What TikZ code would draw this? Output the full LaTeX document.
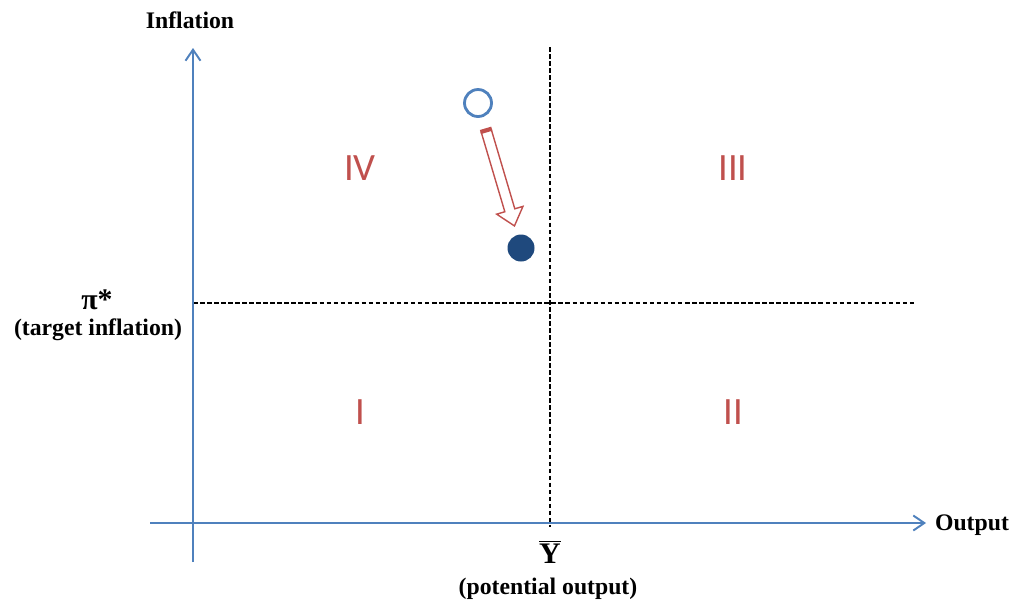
\documentclass[tikz,border=0pt]{standalone}
\usepackage{fontspec}
\setmainfont{Liberation Serif}
\newfontfamily\zonefont{Carlito}
\usetikzlibrary{arrows.meta,shapes.arrows,calc}
\definecolor{AxisBlue}{HTML}{4F81BD}
\definecolor{ZoneRed}{HTML}{C0504D}
\definecolor{DotBlue}{HTML}{1F497D}

\begin{document}
\begin{tikzpicture}[x=0.02cm,y=-0.02cm,>={Straight Barb[length=0.22cm,width=0.3cm]},
  axis/.style={AxisBlue,line width=1.1pt},
  guide/.style={black,line width=1pt,dash pattern=on 2.6pt off 1.4pt},
  lbl/.style={font=\bfseries\fontsize{13.5}{15}\selectfont,inner sep=0pt},
  big/.style={font=\bfseries\fontsize{17}{18}\selectfont},
  zone/.style={font=\zonefont\fontsize{22}{24}\selectfont,text=ZoneRed}]
\path[use as bounding box,fill=white] (0,0) rectangle (1013,600);
% axes and guides
\coordinate (ybot) at (193,562);\coordinate (ytop) at (193,48);
\coordinate (xleft) at (150,523);\coordinate (xright) at (926,523);
\coordinate (vtop) at (550,47);\coordinate (vbot) at (550,527);
\coordinate (hleft) at (193,303);\coordinate (hright) at (915,303);
\draw[guide] (vtop)--(vbot);
\draw[guide] (hleft)--(hright);
\draw[axis,->] (ybot)--(ytop);
\draw[axis,->] (xleft)--(xright);
% labels
\node[lbl] (inflation) at (190,20){Inflation};
\node[lbl] (output) at (972,525){Output};
\node[lbl,big] (pistar) at (97,300){π*};
\node[lbl] (target) at (98,330){(target inflation)};
\node[lbl,big] (ybar) at (550,552){$\overline{\mathbf{Y}}$};
\node[lbl] (potential) at (548,589){(potential output)};
% zones
\node[zone] (zoneIV) at (360,168){IV};
\node[zone] (zoneIII) at (733,168){III};
\node[zone] (zoneI) at (360,412){I};
\node[zone] (zoneII) at (733,412){II};
% points and move
\node[circle,draw=AxisBlue,line width=1.6pt,minimum size=0.54cm,inner sep=0pt] (ring) at (478,103){};
\node[circle,fill=DotBlue,minimum size=0.54cm,inner sep=0pt] (dot) at (521,248){};
\path let \p1=($(dot)-(ring)$),\n1={atan2(\y1,\x1)} in
  node[single arrow,draw=ZoneRed,fill=white,line width=0.8pt,rotate=\n1,
    minimum height=1.98cm,inner xsep=0pt,inner ysep=0.09cm,
    single arrow head extend=0.17cm,single arrow tip angle=80,
    single arrow head indent=0pt] (move) at ($(ring)!0.5!(dot)$){};
\draw[ZoneRed,line width=2.4pt] (move.before tail)--(move.after tail);
\end{tikzpicture}
\end{document}
